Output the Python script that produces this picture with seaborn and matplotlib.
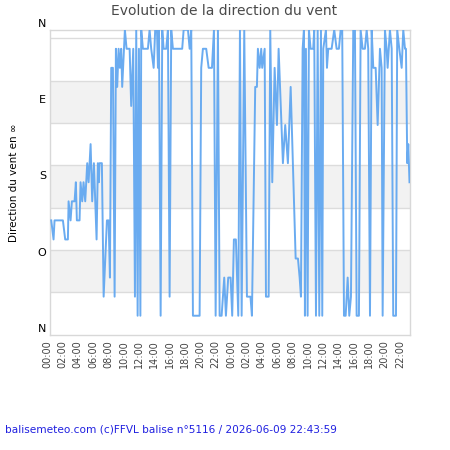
import matplotlib
matplotlib.use('Agg')
import matplotlib.pyplot as plt
import matplotlib.transforms as mtrans
import seaborn as sns

# heures depuis le 1er jour 00:00 et direction du vent (degres, pas de 22.5)
hours = [0.11, 0.41, 0.54, 1.63, 1.93, 2.28, 2.37, 2.63, 2.80, 3.15, 3.32, 3.45, 3.80, 3.93,
         4.15, 4.32, 4.54, 4.80, 4.98, 5.24, 5.45, 5.67, 6.02, 6.19, 6.32, 6.41, 6.71,
         6.94, 7.37, 7.59, 7.76, 7.93, 8.15, 8.37, 8.54, 8.71, 8.89, 9.06, 9.23, 9.36, 9.71,
         9.93, 10.33, 10.53, 10.80, 11.02, 11.19, 11.37, 11.54, 11.73, 11.84, 12.06, 12.71,
         12.93, 13.14, 13.46, 13.66, 13.89, 14.02, 14.15, 14.37, 14.58, 14.76, 15.10, 15.32,
         15.54, 15.75, 15.97, 17.18, 17.37, 17.93, 18.15, 18.36, 18.58, 19.45, 19.66, 19.88,
         20.31, 20.63, 21.06, 21.32, 21.54, 21.84, 22.06, 22.32, 22.66, 22.88, 23.18, 23.49,
         23.70, 23.92, 24.18, 24.49, 24.71, 24.93, 25.27, 25.62, 26.08, 26.27, 26.70, 26.92,
         27.05, 27.28, 27.48, 27.61, 27.93, 28.10, 28.45, 28.66, 28.92, 29.23, 29.53, 29.75,
         30.31, 30.61, 30.96, 31.32, 31.97, 32.27, 32.49, 32.66, 32.88, 33.05, 33.18, 33.31,
         33.53, 33.70, 33.92, 34.26, 34.39, 34.62, 34.84, 35.05, 35.27, 35.44, 35.57, 35.92,
         36.05, 36.22, 36.66, 37.00, 37.31, 37.61, 37.84, 38.04, 38.27, 38.49, 38.75, 38.96,
         39.18, 39.48, 39.70, 39.92, 40.22, 40.44, 40.70, 41.00, 41.23, 41.43, 41.66, 41.88,
         42.09, 42.40, 42.66, 42.96, 43.18, 43.31, 43.61, 43.83, 43.96, 44.26, 44.49, 44.69,
         45.05, 45.21, 45.48, 45.79, 46.00, 46.22, 46.35, 46.52, 46.65, 46.81]
dirs = [135, 112.5, 135, 135, 112.5, 112.5, 157.5, 135, 157.5, 157.5, 180, 135, 135, 180,
        157.5, 180, 157.5, 202.5, 180, 225, 157.5, 202.5, 112.5, 202.5, 180, 202.5, 202.5,
        45, 135, 135, 67.5, 315, 315, 45, 337.5, 292.5, 337.5, 315, 337.5, 292.5, 360,
        337.5, 337.5, 270, 337.5, 45, 360, 22.5, 337.5, 22.5, 360, 337.5, 337.5,
        360, 337.5, 315, 360, 360, 315, 360, 22.5, 360, 337.5, 337.5, 360,
        45, 360, 337.5, 337.5, 360, 360, 337.5, 360, 22.5, 22.5, 315, 337.5,
        337.5, 315, 315, 360, 22.5, 360, 22.5, 22.5, 67.5, 22.5, 67.5, 67.5,
        22.5, 112.5, 112.5, 22.5, 360, 22.5, 360, 45, 45, 22.5, 292.5, 292.5,
        337.5, 315, 337.5, 315, 337.5, 45, 45, 360, 180, 315, 247.5, 337.5,
        202.5, 247.5, 202.5, 292.5, 90, 90, 67.5, 45, 337.5, 360, 22.5, 337.5,
        22.5, 360, 337.5, 337.5, 360, 22.5, 360, 22.5, 360, 22.5, 337.5, 360,
        315, 337.5, 337.5, 360, 337.5, 337.5, 360, 360, 22.5, 22.5, 67.5, 22.5,
        45, 360, 360, 22.5, 22.5, 360, 337.5, 337.5, 360, 337.5, 22.5, 360,
        315, 315, 247.5, 337.5, 315, 22.5, 360, 337.5, 315, 360, 337.5, 22.5,
        22.5, 360, 337.5, 315, 360, 337.5, 337.5, 202.5, 225, 180]

dir_ticks = [0, 90, 180, 270, 360]
dir_labels = ['N', 'O', 'S', 'E', 'N']
time_ticks = list(range(0, 47, 2))
time_labels = ['%02d:00' % (h % 24) for h in time_ticks]

fig = plt.figure(figsize=(4.5, 4.5), dpi=100)
ax = fig.add_axes([0.112, 0.256, 0.799, 0.678])

# bandes grises alternees
for lo in [50, 150, 250]:
    ax.axhspan(lo, lo + 50, color='#f2f2f2', lw=0, zorder=0)
for g in range(50, 360, 50):
    ax.axhline(g, color='#dcdcdc', lw=1, zorder=1)

sns.lineplot(x=hours, y=dirs, ax=ax, sort=False, estimator=None,
             color='#62a7f0', lw=1.4, alpha=0.95, zorder=3)

ax.set_xlim(0, 46.87)
ax.set_ylim(0, 360)
ax.set_yticks(dir_ticks)
ax.set_yticklabels(dir_labels, fontsize=8)
ax.set_xticks(time_ticks)
ax.set_xticklabels(time_labels, rotation=90, fontsize=7, color='#444444')
ax.tick_params(axis='both', length=0)
ax.tick_params(axis='y', pad=3)
ax.tick_params(axis='x', pad=4)
for lab in ax.get_yticklabels():
    lab.set_transform(lab.get_transform() + mtrans.ScaledTranslation(0, 5 / 72, fig.dpi_scale_trans))
for lab in ax.get_xticklabels():
    lab.set_transform(lab.get_transform() + mtrans.ScaledTranslation(-2.5 / 72, 0, fig.dpi_scale_trans))
for s in ax.spines.values():
    s.set_color('#d8d8d8')
    s.set_linewidth(1)

ax.set_ylabel('Direction du vent en ∞', fontsize=7.5, labelpad=13)
fig.text(0.497, 0.975, 'Evolution de la direction du vent', ha='center', va='center',
         fontsize=10, color='#4a4a4a')
fig.text(0.011, 0.046, 'balisemeteo.com (c)FFVL balise n°5116 / 2026-06-09 22:43:59',
         ha='left', va='center', fontsize=7.6, color='#2020e0')

fig.savefig('out.png', dpi=100)
